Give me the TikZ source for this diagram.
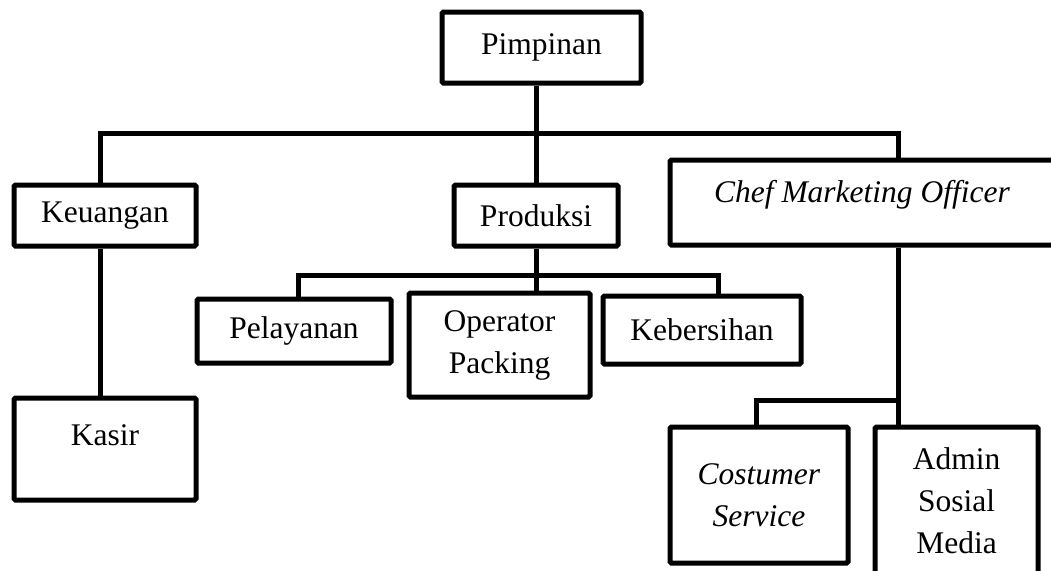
\documentclass[tikz,border=0pt]{standalone}
\usepackage{fontspec}
\setmainfont{Liberation Serif}
\begin{document}
\begin{tikzpicture}[x=1pt,y=-1pt,
  box/.style={draw, line width=5pt, rounded corners=1.5pt, align=center, inner sep=0pt,
    font=\fontsize{31.5}{42}\selectfont},
  lbl/.style={inner sep=0pt, font=\fontsize{31.5}{42}\selectfont},
  conn/.style={line width=5pt, line join=miter}]
\useasboundingbox (0,0) rectangle (1051,570);
\clip (0,0) rectangle (1051,570);
% boxes
\node[box, minimum width=199pt, minimum height=71pt] (pim) at (541.5,47.5) {Pimpinan};
\node[box, minimum width=182pt, minimum height=61pt] (keu) at (105,215.5) {Keuangan};
\node[box, minimum width=164pt, minimum height=61pt] (pro) at (536,215.5) {Produksi};
\node[box, minimum width=390pt, minimum height=85pt] (cmo) at (865,202.5) {};
\node[lbl, anchor=base] (cmot) at (862,202) {\textit{Chef Marketing Officer}};
\node[box, minimum width=182pt, minimum height=102pt] (kas) at (105,449) {};
\node[lbl, anchor=base] (kast) at (105,445) {Kasir};
\node[box, minimum width=194pt, minimum height=64pt] (pel) at (294,331) {Pelayanan};
\node[box, minimum width=181pt, minimum height=104pt] (ope) at (499.5,345) {Operator\\Packing};
\node[box, minimum width=198pt, minimum height=68pt] (keb) at (702,330) {Kebersihan};
\node[box, minimum width=178pt, minimum height=136pt] (cs) at (759,495) {\textit{Costumer}\\\textit{Service}};
\node[box, minimum width=163pt, minimum height=148pt] (adm) at (956.5,501) {Admin\\Sosial\\Media};
% bus coordinates
\coordinate (b1m) at (536,133);
\coordinate (b1l) at (100,133);
\coordinate (b1r) at (898,133);
\coordinate (b2m) at (536,275);
\coordinate (b2l) at (298,275);
\coordinate (b2r) at (718,275);
\coordinate (b3r) at (898,400);
\coordinate (b3l) at (756,400);
% connectors
\draw[conn] (pim.south -| b1m) -- (b1m);
\draw[conn] (keu.north -| b1l) -- (b1l) -- (b1r) -- (cmo.north -| b1r);
\draw[conn] (b1m) -- (pro.north -| b1m);
\draw[conn] (keu.south -| b1l) -- (kas.north -| b1l);
\draw[conn] (pro.south -| b2m) -- (ope.north -| b2m);
\draw[conn] (pel.north -| b2l) -- (b2l) -- (b2r) -- (keb.north -| b2r);
\draw[conn] (cmo.south -| b3r) -- (adm.north -| b3r);
\draw[conn] (cs.north -| b3l) -- (b3l) -- (b3r);
\end{tikzpicture}
\end{document}
